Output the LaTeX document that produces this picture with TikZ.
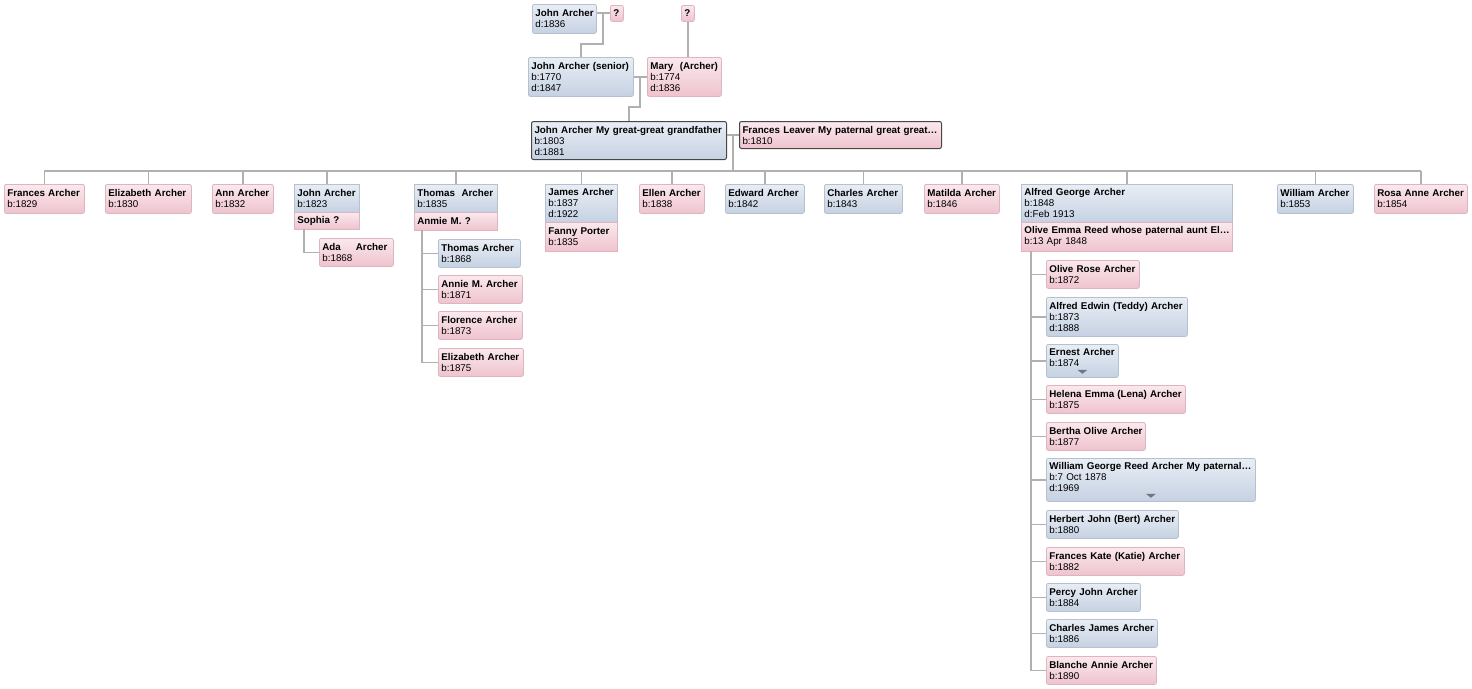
\documentclass[tikz,border=0pt]{standalone}
\usepackage{fontspec}
\setmainfont{Liberation Sans}

\definecolor{maletop}{HTML}{E9EEF5}
\definecolor{malebot}{HTML}{C5D1E2}
\definecolor{maleline}{HTML}{B6C1D0}
\definecolor{femtop}{HTML}{FAE9ED}
\definecolor{fembot}{HTML}{EFC3CE}
\definecolor{femline}{HTML}{DDB4BF}
\definecolor{linkgray}{HTML}{B0B0B0}
\definecolor{markgray}{HTML}{6E7682}

\newcommand{\who}[1]{\mbox{\textbf{#1}}}
\newcommand{\when}[1]{\mbox{#1}}

\tikzset{
  person/.style={anchor=north west,align=left,rounded corners=2pt,inner xsep=3pt,inner ysep=0pt,
    font=\fontsize{9.8}{11}\selectfont,line width=0.8pt},
  male/.style={person,draw=maleline,top color=maletop,bottom color=malebot},
  female/.style={person,draw=femline,top color=femtop,bottom color=fembot},
  upper/.style={sharp corners},
  lower/.style={sharp corners},
  mainbox/.style={draw=black!72,line width=1pt},
  link/.style={draw=linkgray,line width=1.7pt},
  more/.style={fill=markgray},
}

\begin{document}
\begin{tikzpicture}[x=1pt,y=-1pt]
\fill[white] (0,0) rectangle (1472,688);
\useasboundingbox (0,0) rectangle (1472,688);

% grandparents
\node[male,text width=58,minimum height=29] (ja1) at (532,4) {\who{John Archer}\\d:1836};
\node[female,text width=7,minimum height=16] (q1) at (610,5) {\who{?}};
\node[female,text width=7,minimum height=16] (q2) at (681,5) {\who{?}};
\node[male,text width=99,minimum height=39] (jas) at (528,57) {\who{John Archer (senior)}\\b:1770\\d:1847};
\node[female,text width=68,minimum height=39] (mary) at (647,57) {\who{Mary\ \ (Archer)}\\b:1774\\d:1836};

% main couple
\node[male,mainbox,text width=189,minimum height=38] (ja) at (531,121) {\who{John Archer My great-great grandfather}\\b:1803\\d:1881};
\node[female,mainbox,text width=196,minimum height=27] (fl) at (739,121) {\who{Frances Leaver My paternal great great\ldots}\\b:1810};

% children
\node[female,text width=74,minimum height=29] (fa) at (4,184) {\who{Frances Archer}\\b:1829};
\node[female,text width=80,minimum height=29] (ea) at (105,184) {\who{Elizabeth Archer}\\b:1830};
\node[female,text width=55,minimum height=29] (aa) at (212,184) {\who{Ann Archer}\\b:1832};
\node[male,upper,text width=59,minimum height=28] (jo) at (294,184) {\who{John Archer}\\b:1823};
\node[female,lower,text width=59,minimum height=17] (so) at (294,212) {\who{Sophia ?}};
\node[male,upper,text width=77,minimum height=28] (th) at (414,184) {\who{Thomas\ \ Archer}\\b:1835};
\node[female,lower,text width=77,minimum height=18] (an) at (414,212) {\who{Anmie M. ?}};
\node[male,upper,text width=66,minimum height=38] (jm) at (545,184) {\who{James Archer}\\b:1837\\d:1922};
\node[female,lower,text width=66,minimum height=29] (fp) at (545,222) {\who{Fanny Porter}\\b:1835};
\node[female,text width=59,minimum height=29] (el) at (639,184) {\who{Ellen Archer}\\b:1838};
\node[male,text width=73,minimum height=29] (ed) at (725,184) {\who{Edward Archer}\\b:1842};
\node[male,text width=72,minimum height=29] (ch) at (824,184) {\who{Charles Archer}\\b:1843};
\node[female,text width=69,minimum height=29] (ma) at (924,184) {\who{Matilda Archer}\\b:1846};
\node[male,upper,text width=205,minimum height=38] (al) at (1021,184) {\who{Alfred George Archer}\\b:1848\\\when{d:Feb 1913}};
\node[female,lower,text width=205,minimum height=29] (ol) at (1021,222) {\who{Olive Emma Reed whose paternal aunt El\ldots}\\\when{b:13 Apr 1848}};
\node[male,text width=70,minimum height=29] (wi) at (1277,184) {\who{William Archer}\\b:1853};
\node[female,text width=87,minimum height=29] (ra) at (1374,184) {\who{Rosa Anne Archer}\\b:1854};

% grandchildren
\node[female,text width=68,minimum height=28] (ada) at (319,238) {\who{Ada\hspace{15pt}Archer}\\b:1868};

\node[male,text width=76,minimum height=28] (tc) at (438,239) {\who{Thomas Archer}\\b:1868};
\node[female,text width=78,minimum height=28] (am) at (438,275) {\who{Annie M. Archer}\\b:1871};
\node[female,text width=78,minimum height=28] (fc) at (438,311) {\who{Florence Archer}\\b:1873};
\node[female,text width=79,minimum height=28] (eb) at (438,348) {\who{Elizabeth Archer}\\b:1875};

\node[female,text width=87,minimum height=28] (orc) at (1046,260) {\who{Olive Rose Archer}\\b:1872};
\node[male,text width=135,minimum height=39] (aec) at (1046,297) {\who{Alfred Edwin (Teddy) Archer}\\b:1873\\d:1888};
\node[male,text width=66,minimum height=33] (er) at (1046,344) {\who{Ernest Archer}\\b:1874\\[-5pt]\mbox{}};
\node[female,text width=133,minimum height=28] (hel) at (1046,385) {\who{Helena Emma (Lena) Archer}\\b:1875};
\node[female,text width=93,minimum height=28] (ber) at (1046,422) {\who{Bertha Olive Archer}\\b:1877};
\node[male,text width=203,minimum height=43] (wg) at (1046,458) {\who{William George Reed Archer My paternal\ldots}\\\when{b:7 Oct 1878}\\d:1969\\[-5pt]\mbox{}};
\node[male,text width=126,minimum height=28] (her) at (1046,510) {\who{Herbert John (Bert) Archer}\\b:1880};
\node[female,text width=132,minimum height=28] (fk) at (1046,547) {\who{Frances Kate (Katie) Archer}\\b:1882};
\node[male,text width=88,minimum height=28] (pj) at (1046,583) {\who{Percy John Archer}\\b:1884};
\node[male,text width=105,minimum height=28] (cj) at (1046,619) {\who{Charles James Archer}\\b:1886};
\node[female,text width=104,minimum height=28] (bl) at (1046,656) {\who{Blanche Annie Archer}\\b:1890};

% more markers
\fill[more] ([shift={(-5,-8)}]er.south) -- ++(10,0) -- ++(-5,4) -- cycle;
\fill[more] ([shift={(-5,-8)}]wg.south) -- ++(10,0) -- ++(-5,4) -- cycle;

% links
\coordinate (c1) at (603,13);
\coordinate (c1b) at (603,44);
\draw[link] (ja1.east |- c1) -- (q1.west |- c1);
\draw[link] (c1) -- (c1b) -| (jas.north);
\draw[link] (q2.south) -- (q2.south |- mary.north);

\coordinate (c2) at (640,77);
\coordinate (c2b) at (640,107);
\draw[link] (jas.east |- c2) -- (mary.west |- c2);
\draw[link] (c2) -- (c2b) -| (ja.north);

\coordinate (c3) at (733,135);
\coordinate (bus) at (733,171);
\draw[link] (ja.east |- c3) -- (fl.west |- c3);
\draw[link] (c3) -- (bus);
\draw[link] (fa.north |- bus) -- (ra.north |- bus);
\draw[link] (fa.north) -- (fa.north |- bus);
\draw[link] (ea.north) -- (ea.north |- bus);
\draw[link] (aa.north) -- (aa.north |- bus);
\draw[link] (jo.north) -- (jo.north |- bus);
\draw[link] (th.north) -- (th.north |- bus);
\draw[link] (jm.north) -- (jm.north |- bus);
\draw[link] (el.north) -- (el.north |- bus);
\draw[link] (ed.north) -- (ed.north |- bus);
\draw[link] (ch.north) -- (ch.north |- bus);
\draw[link] (ma.north) -- (ma.north |- bus);
\draw[link] (al.north) -- (al.north |- bus);
\draw[link] (wi.north) -- (wi.north |- bus);
\draw[link] (ra.north) -- (ra.north |- bus);

\coordinate (c4) at (304,229);
\draw[link] (c4) |- (ada.west);

\coordinate (c5) at (422,230);
\draw[link] (c5) |- (eb.west);
\draw[link] (c5 |- tc.west) -- (tc.west);
\draw[link] (c5 |- am.west) -- (am.west);
\draw[link] (c5 |- fc.west) -- (fc.west);

\coordinate (c6) at (1031,251);
\draw[link] (c6) |- (bl.west);
\draw[link] (c6 |- orc.west) -- (orc.west);
\draw[link] (c6 |- aec.west) -- (aec.west);
\draw[link] (c6 |- er.west) -- (er.west);
\draw[link] (c6 |- hel.west) -- (hel.west);
\draw[link] (c6 |- ber.west) -- (ber.west);
\draw[link] (c6 |- wg.west) -- (wg.west);
\draw[link] (c6 |- her.west) -- (her.west);
\draw[link] (c6 |- fk.west) -- (fk.west);
\draw[link] (c6 |- pj.west) -- (pj.west);
\draw[link] (c6 |- cj.west) -- (cj.west);
\end{tikzpicture}
\end{document}
